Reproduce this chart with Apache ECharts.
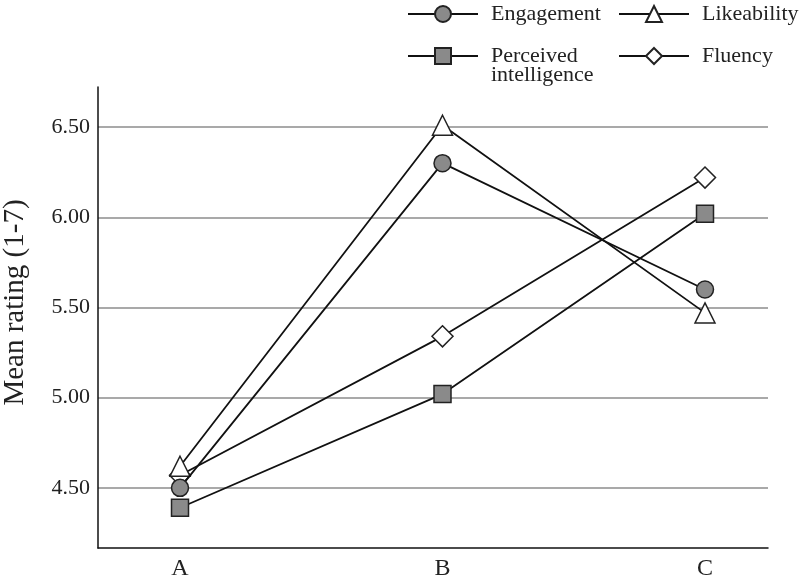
<!DOCTYPE html>
<html><head><meta charset="utf-8">
<script src="https://cdn.jsdelivr.net/npm/echarts@6/dist/echarts.min.js"></script>
<style>html,body{margin:0;padding:0;background:#fff}#c{width:800px;height:581px}</style>
</head><body><div id="c"></div>
<script>
const categories = ['A', 'B', 'C'];
const yTicks = [4.5, 5.0, 5.5, 6.0, 6.5];
const engagement = [4.50, 6.30, 5.60];
const perceived = [4.39, 5.02, 6.02];
const likeability = [4.62, 6.51, 5.47];
const fluency = [4.57, 5.34, 6.22];

const FONT = 'Liberation Serif';
const pts = arr => arr.map((v, i) => [i, v]);
function mk(name, data, symbol, size, fill, z) {
  return {
    name, type: 'line', data: pts(data), symbol, symbolSize: size, z,
    lineStyle: { color: '#111', width: 1.8 },
    itemStyle: { color: fill, borderColor: '#222', borderWidth: 1.5 },
    emphasis: { disabled: true }, animation: false
  };
}
const chart = echarts.init(document.getElementById('c'), null, { renderer: 'canvas' });
const legendText = { fontFamily: FONT, fontSize: 22, color: '#222', lineHeight: 19, padding: [0, 0, 0, 8] };
const legendBase = {
  orient: 'vertical', itemWidth: 70, itemHeight: 20, padding: 0,
  textStyle: legendText,
  formatter: n => n === 'Perceived intelligence' ? '\nPerceived\nintelligence' : n,
  selectedMode: false
};
chart.setOption({
  backgroundColor: '#fff',
  animation: false,
  legend: [
    Object.assign({}, legendBase, { left: 407, top: 3, itemGap: 1, data: ['Engagement', 'Perceived intelligence'] }),
    Object.assign({}, legendBase, { left: 618, top: 3, itemGap: 20, data: ['Likeability', 'Fluency'] })
  ],
  grid: { left: 98, right: 32, top: 87, bottom: 33, outerBoundsMode: 'none', containLabel: false },
  xAxis: {
    type: 'value', min: -0.3124, max: 2.24,
    axisLine: { show: true, onZero: false, lineStyle: { color: '#111', width: 1.5 } },
    axisTick: { show: false, customValues: [0, 1, 2] },
    axisLabel: { customValues: [0, 1, 2], formatter: v => categories[Math.round(v)], fontFamily: FONT, fontSize: 24, color: '#222', margin: 9 },
    splitLine: { show: false }
  },
  yAxis: {
    type: 'value', min: 4.1667, max: 6.7222,
    name: 'Mean rating (1-7)', nameLocation: 'middle', nameGap: 68,
    nameTextStyle: { fontFamily: FONT, fontSize: 29, color: '#222', padding: [0, 0, 0, 30] },
    axisLine: { show: true, onZero: false, lineStyle: { color: '#111', width: 1.5 } },
    axisTick: { show: false, customValues: yTicks },
    axisLabel: { customValues: yTicks, formatter: v => v.toFixed(2), fontFamily: FONT, fontSize: 22, color: '#222', margin: 8 },
    splitLine: { show: true, lineStyle: { color: '#8c8c8c', width: 1.5 } }
  },
  series: [
    mk('Engagement', engagement, 'circle', 17, '#8a8a8a', 5),
    mk('Perceived intelligence', perceived, 'rect', 17, '#8a8a8a', 4),
    mk('Likeability', likeability, 'triangle', 20, '#fff', 3),
    mk('Fluency', fluency, 'diamond', 21, '#fff', 2)
  ]
});
</script></body></html>
